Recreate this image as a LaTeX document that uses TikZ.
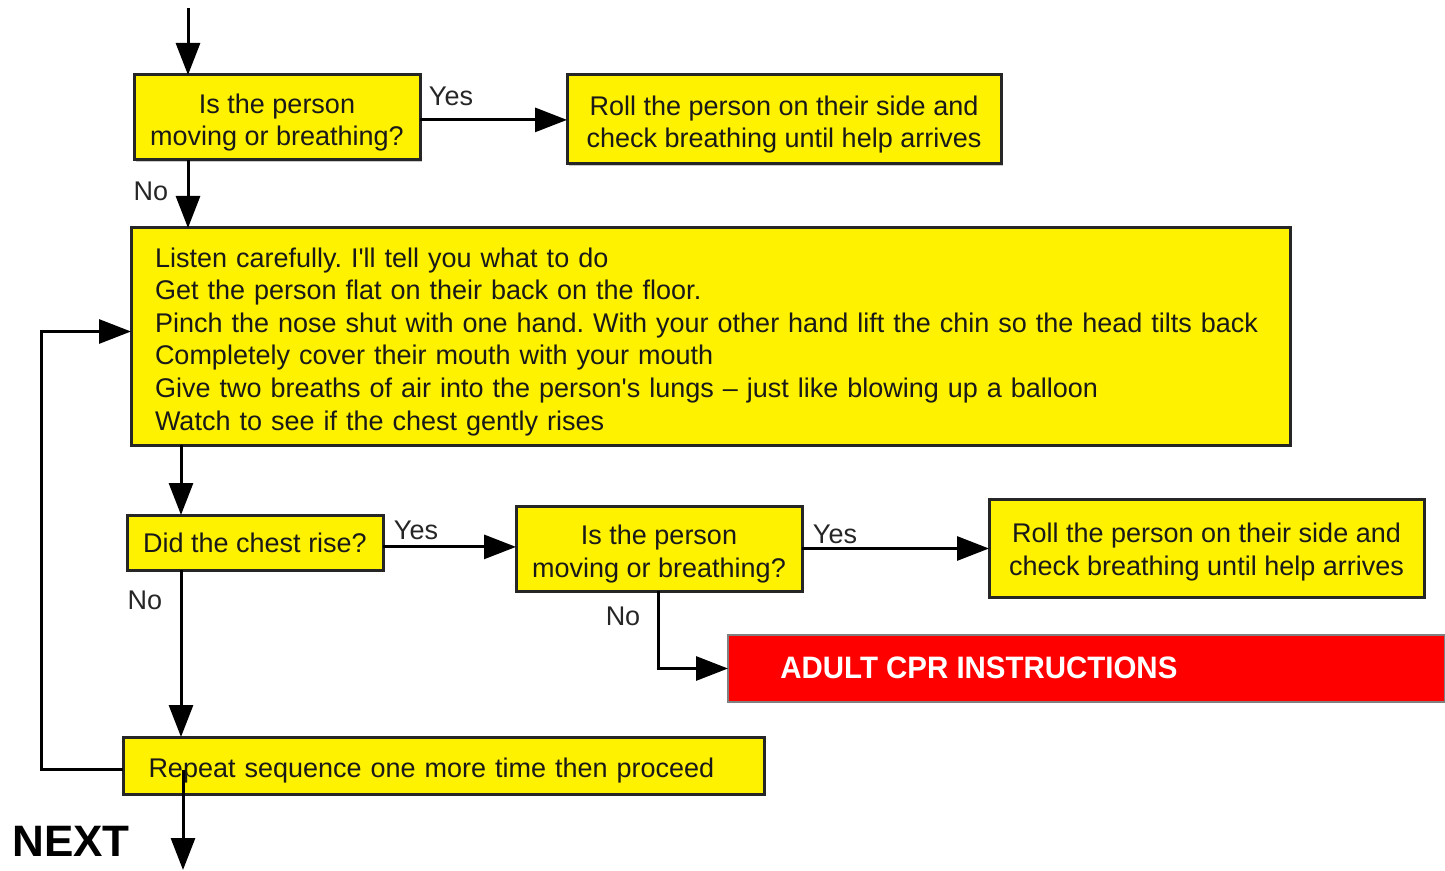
\documentclass[tikz,border=0pt]{standalone}
\usepackage{fontspec}
\setmainfont[Ligatures=NoCommon]{Liberation Sans}
\usetikzlibrary{arrows.meta,shadows}
\newcommand{\tstrut}{\rule{0pt}{15pt}}
\begin{document}
\frenchspacing
\begin{tikzpicture}[x=0.5pt,y=-0.5pt,
  box/.style={draw=black!85,line width=1.5pt,fill=yellow,inner sep=0pt,outer sep=0pt,
    font=\fontsize{13.5}{16.3}\selectfont,text=black!90,
    drop shadow={shadow xshift=1.2pt,shadow yshift=-1.2pt,fill=black!35,opacity=0.6}},
  arr/.style={line width=1.5pt,draw=black,-{Triangle[length=16pt,width=12pt]}},
  lbl/.style={font=\fontsize{13.5}{16}\selectfont,text=black!85,inner sep=0pt}]
\useasboundingbox (0,0) rectangle (1445,871);
% nodes
\node[box,minimum width=143pt,minimum height=42.5pt,align=center] (q1) at (277,117.5)
  {\tstrut Is the person\\moving or breathing?};
\node[box,minimum width=217pt,minimum height=44.5pt,align=center] (r1) at (784,119.5)
  {\tstrut Roll the person on their side and\\check breathing until help arrives};
\node[box,minimum width=579.5pt,minimum height=108.5pt,text width=555.5pt,align=left] (big) at (710.5,336.5)
  {\tstrut Listen carefully. I\textquotesingle ll tell you what to do\\
   Get the person flat on their back on the floor.\\
   Pinch the nose shut with one hand. With your other hand lift the chin so the head tilts back\\
   Completely cover their mouth with your mouth\\
   Give two breaths of air into the person\textquotesingle s lungs -- just like blowing up a balloon\\
   Watch to see if the chest gently rises};
\node[box,minimum width=128pt,minimum height=27.5pt,align=center] (chest) at (255,542.5)
  {Did the chest rise?};
\node[box,minimum width=143pt,minimum height=42.5pt,align=center] (q2) at (659,548.5)
  {\tstrut Is the person\\moving or breathing?};
\node[box,minimum width=217.5pt,minimum height=49pt,align=center] (r2) at (1206.5,548)
  {\rule{0pt}{13.5pt}Roll the person on their side and\\check breathing until help arrives};
\node[draw=black!50,line width=0.6pt,fill=red,inner sep=0pt,outer sep=0pt,
  minimum width=358.5pt,minimum height=33.5pt] (red) at (1086.5,668.5) {};
\node[anchor=west,inner sep=0pt,text=white,font=\bfseries\fontsize{15.5}{18}\selectfont] (redt) at (780,668)
  {\scalebox{0.95}[1]{ADULT CPR INSTRUCTIONS}};
\node[box,minimum width=320.5pt,minimum height=28.5pt,text width=295pt,align=left] (rep) at (443.5,765.5)
  {\tstrut Repeat sequence one more time then proceed};
\node[inner sep=0pt,font=\bfseries\fontsize{22}{24}\selectfont] (next) at (71,841) {NEXT};
% coordinates
\coordinate (top) at (188,8);
\coordinate (colA) at (181,0);
\coordinate (colB) at (658,0);
\coordinate (loopx) at (41,0);
\coordinate (nx) at (183,870);
% connectors
\draw[arr] (top) -- (top |- q1.north);
\draw[arr] ([yshift=-1.2pt]q1.east) -- ([yshift=-1.2pt]r1.west |- q1.east);
\draw[arr] (q1.south -| top) -- (big.north -| top);
\draw[arr] (big.south -| colA) -- (chest.north -| colA);
\draw[arr] ([yshift=-2.2pt]chest.east) -- ([yshift=-2.2pt]q2.west |- chest.east);
\draw[arr] (q2.east) -- (r2.west |- q2.east);
\draw[arr] (q2.south -| colB) |- (red.west);
\draw[arr] (chest.south -| colA) -- (rep.north -| colA);
\draw[arr] ([yshift=-2pt]rep.west) -| ([yshift=2.5pt]big.west -| loopx) -- ([yshift=2.5pt]big.west);
\draw[arr] ([yshift=-2pt]rep.center -| nx) -- (nx);
% labels
\node[lbl] (y1) at (451,96) {Yes};
\node[lbl] (n1) at (151,191) {No};
\node[lbl] (y2) at (416,530) {Yes};
\node[lbl] (y3) at (835,534) {Yes};
\node[lbl] (n2) at (623,616) {No};
\node[lbl] (n3) at (145,600) {No};
\end{tikzpicture}
\end{document}
